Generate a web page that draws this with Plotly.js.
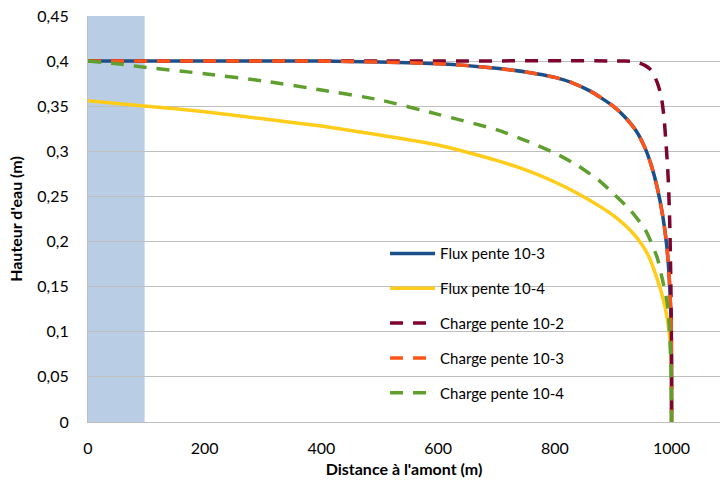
<!DOCTYPE html>
<html>
<head>
<meta charset="utf-8">
<script src="https://cdn.plot.ly/plotly-3.0.1.min.js"></script>
<style>html,body{margin:0;padding:0;background:#fff;}#chart{width:721px;height:484px;}</style>
</head>
<body>
<div id="chart"></div>
<script>
// Shaded upstream zone (m)
var zoneX = [0, 97];

// Flux pente 10-3
var flux3X = [0, 400, 500, 600, 650, 700, 750, 800, 830, 860, 880, 900, 920, 940, 955, 965, 975, 985, 992, 996, 998.5, 999.5, 1000, 1000];
var flux3Y = [0.400, 0.400, 0.399, 0.397, 0.395, 0.392, 0.388, 0.382, 0.376, 0.367, 0.359, 0.350, 0.338, 0.322, 0.303, 0.285, 0.261, 0.228, 0.194, 0.160, 0.125, 0.095, 0.050, 0];

// Flux pente 10-4
var flux4X = [0, 100, 200, 300, 400, 500, 600, 700, 760, 800, 840, 877, 900, 930, 950, 962, 972, 982, 990, 995, 998, 999.5, 1000, 1000];
var flux4Y = [0.356, 0.350, 0.344, 0.336, 0.328, 0.318, 0.307, 0.290, 0.277, 0.266, 0.253, 0.239, 0.229, 0.212, 0.196, 0.182, 0.165, 0.145, 0.124, 0.104, 0.085, 0.060, 0.030, 0];

// Charge pente 10-2
var charge2X = [0, 500, 920, 940, 955, 965, 975, 982, 987, 990, 993, 995, 997, 998.5, 999.5, 1000, 1000];
var charge2Y = [0.400, 0.400, 0.400, 0.399, 0.395, 0.390, 0.377, 0.362, 0.338, 0.313, 0.285, 0.258, 0.218, 0.165, 0.110, 0.050, 0];

// Charge pente 10-3
var charge3X = [0, 400, 500, 600, 650, 700, 750, 800, 830, 860, 880, 900, 920, 940, 955, 965, 975, 985, 992, 996, 998.5, 999.5, 1000, 1000];
var charge3Y = [0.400, 0.400, 0.399, 0.397, 0.395, 0.392, 0.388, 0.382, 0.376, 0.367, 0.359, 0.350, 0.338, 0.322, 0.303, 0.285, 0.261, 0.228, 0.194, 0.160, 0.125, 0.095, 0.050, 0];

// Charge pente 10-4
var charge4X = [0, 50, 100, 200, 300, 400, 500, 600, 700, 750, 800, 840, 877, 899, 929, 955, 975, 985, 991, 994, 997, 999, 1000, 1000];
var charge4Y = [0.400, 0.397, 0.393, 0.386, 0.378, 0.368, 0.357, 0.341, 0.324, 0.312, 0.298, 0.284, 0.267, 0.254, 0.235, 0.213, 0.183, 0.156, 0.138, 0.125, 0.094, 0.061, 0.010, 0];

var seriesNames = ["Flux pente 10-3", "Flux pente 10-4", "Charge pente 10-2", "Charge pente 10-3", "Charge pente 10-4"];

var xTicks = [0, 200, 400, 600, 800, 1000];
var yTickVals = [0, 0.05, 0.1, 0.15, 0.2, 0.25, 0.3, 0.35, 0.4, 0.45];
var yTickText = ["0", "0,05", "0,1", "0,15", "0,2", "0,25", "0,3", "0,35", "0,4", "0,45"];

var FONT = "Lato, 'Open Sans', sans-serif";
var dashStyle = "13px,10px";

function tr(x, y, name, color, dash, i) {
  return {
    type: "scatter", mode: "lines", x: x, y: y, name: name,
    legendgroup: "g" + i,
    line: {color: color, width: 3.5, dash: dash, shape: "spline", smoothing: 0.6},
    hoverinfo: "skip"
  };
}

var traces = [
  tr(flux3X, flux3Y, seriesNames[0], "#1b4f8a", "solid", 0),
  tr(flux4X, flux4Y, seriesNames[1], "#ffcc1a", "solid", 1),
  tr(charge2X, charge2Y, seriesNames[2], "#7d0530", dashStyle, 2),
  tr(charge3X, charge3Y, seriesNames[3], "#ff5419", dashStyle, 3),
  tr(charge4X, charge4Y, seriesNames[4], "#5f9f2e", dashStyle, 4)
];

var layout = {
  width: 721, height: 484,
  margin: {l: 88, r: 1, t: 16, b: 62},
  paper_bgcolor: "#ffffff", plot_bgcolor: "#ffffff",
  font: {family: FONT, size: 16, color: "#000000"},
  showlegend: true,
  legend: {
    x: 0.470, y: 0.455, xanchor: "left", yanchor: "top",
    bgcolor: "rgba(0,0,0,0)", borderwidth: 0,
    font: {family: FONT, size: 15, color: "#000000"},
    tracegroupgap: 12.3, traceorder: "grouped", itemwidth: 45
  },
  xaxis: {
    range: [0, 1083], tickvals: xTicks, ticks: "", showgrid: false, zeroline: false,
    showline: true, linecolor: "#bfbfbf", linewidth: 1,
    ticklabelstandoff: 12,
    tickfont: {family: FONT, size: 16, color: "#000000"},
    title: {text: "<b>Distance à l'amont (m)</b>", font: {family: FONT, size: 16, color: "#000000"}, standoff: 7}
  },
  yaxis: {
    range: [0, 0.45], tickvals: yTickVals, ticktext: yTickText, ticks: "",
    showgrid: true, gridcolor: "#bfbfbf", gridwidth: 1, zeroline: false,
    showline: true, linecolor: "#bfbfbf", linewidth: 1,
    ticklabelstandoff: 15,
    tickfont: {family: FONT, size: 16, color: "#000000"},
    title: {text: "<b>Hauteur d'eau (m)</b>", font: {family: FONT, size: 16, color: "#000000"}, standoff: 10}
  },
  shapes: [{
    type: "rect", xref: "x", yref: "y", layer: "below",
    x0: zoneX[0], x1: zoneX[1], y0: 0, y1: 0.45,
    fillcolor: "#b9cde5", line: {width: 0}
  }]
};

Plotly.newPlot("chart", traces, layout, {displayModeBar: false, staticPlot: true});
</script>
</body>
</html>
